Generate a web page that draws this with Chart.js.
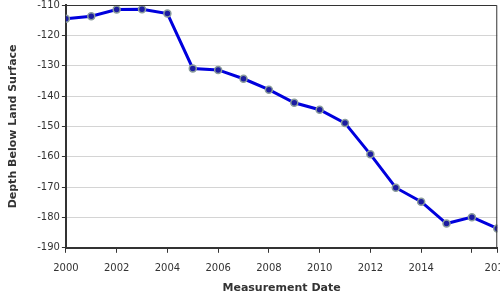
<!DOCTYPE html>
<html>
<head>
<meta charset="utf-8">
<script src="https://cdn.jsdelivr.net/npm/chart.js@4"></script>
<style>
  html, body { margin: 0; padding: 0; background: #fff; overflow: hidden; }
  #wrap { width: 520px; height: 303px; margin-top: -3px; }
</style>
</head>
<body>
<div id="wrap"><canvas id="depthChart"></canvas></div>
<script>
var years = [2000, 2001, 2002, 2003, 2004, 2005, 2006, 2007, 2008, 2009,
             2010, 2011, 2012, 2013, 2014, 2015, 2016, 2017];
var depths = [-114.5, -113.7, -111.5, -111.4, -112.8, -130.9, -131.4, -134.3, -137.9, -142.2,
              -144.5, -148.9, -159.2, -170.2, -174.8, -182.0, -179.9, -183.6];
var xTicks = [2000, 2002, 2004, 2006, 2008, 2010, 2012, 2014, 2016, 2017];
var hiddenTicks = [2016];

var points = years.map(function (y, i) { return { x: y, y: depths[i] }; });

// thin frame on top and right of the plot
var framePlugin = {
    id: 'frame',
    afterDraw: function (chart) {
        var a = chart.chartArea, ctx = chart.ctx;
        ctx.save();
        ctx.strokeStyle = '#333';
        ctx.lineWidth = 1;
        ctx.beginPath();
        ctx.moveTo(a.left, a.top + 0.5);
        ctx.lineTo(a.right - 0.5, a.top + 0.5);
        ctx.lineTo(a.right - 0.5, a.bottom);
        ctx.stroke();
        ctx.restore();
    }
};

var depthChart = new Chart(document.getElementById('depthChart'), {
    type: 'line',
    data: {
        datasets: [{
            data: points,
            borderColor: '#0000dd',
            borderWidth: 3,
            tension: 0,
            fill: false,
            pointRadius: 3.5,
            pointBackgroundColor: '#1c1ca0',
            pointBorderColor: '#8a9c9c',
            pointBorderWidth: 1.5
        }]
    },
    options: {
        responsive: true,
        maintainAspectRatio: false,
        animation: false,
        layout: { padding: { top: 0, left: 7, right: 0, bottom: 5 } },
        plugins: {
            legend: { display: false },
            tooltip: { enabled: false }
        },
        scales: {
            x: {
                type: 'linear',
                min: 2000,
                max: 2017,
                afterBuildTicks: function (axis) {
                    axis.ticks = xTicks.map(function (v) { return { value: v }; });
                },
                ticks: {
                    autoSkip: false,
                    maxRotation: 0,
                    color: '#333',
                    font: { family: 'DejaVu Sans', size: 10 },
                    padding: 10,
                    callback: function (v) { return hiddenTicks.indexOf(v) >= 0 ? '' : String(v); }
                },
                grid: { drawOnChartArea: false, drawTicks: true, tickLength: 5, tickColor: '#333' },
                border: { color: '#333', width: 2 },
                title: {
                    display: true,
                    text: 'Measurement Date',
                    color: '#333',
                    font: { family: 'DejaVu Sans', size: 11, weight: 'bold' },
                    padding: { top: -3, bottom: 0 }
                }
            },
            y: {
                min: -190,
                max: -110,
                ticks: {
                    stepSize: 10,
                    color: '#333',
                    font: { family: 'DejaVu Sans', size: 10 },
                    padding: 2
                },
                grid: { color: '#d4d4d4', tickLength: 4, tickColor: '#333' },
                border: { color: '#333', width: 2 },
                title: {
                    display: true,
                    text: 'Depth Below Land Surface',
                    color: '#333',
                    font: { family: 'DejaVu Sans', size: 11, weight: 'bold' },
                    padding: { top: 0, bottom: 15 }
                }
            }
        }
    },
    plugins: [framePlugin]
});
</script>
</body>
</html>
